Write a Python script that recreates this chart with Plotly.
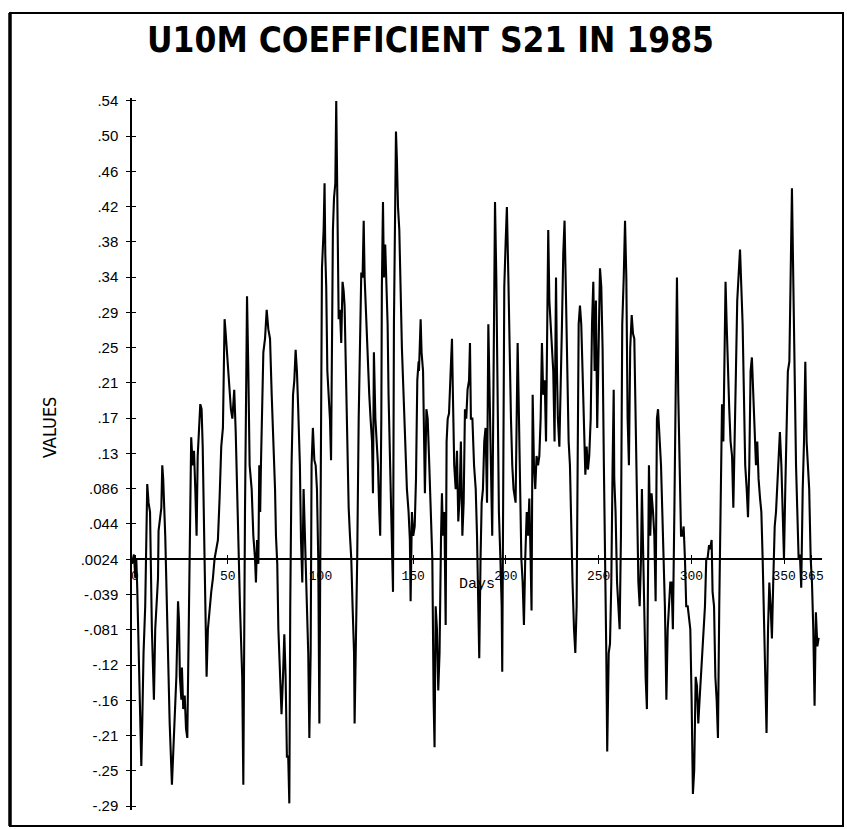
import plotly.graph_objects as go

# ---- data ----
DAYS = [
    -1.6, -0.6, 0.2, 0.7, 1.2, 2.5, 3.4, 3.9, 4.6, 5.5, 6.6, 7.3, 8.1, 9.1, 10.2, 10.9, 11.6, 12.4, 12.7, 13.4,
    14.2, 14.7, 15.2, 16.3, 17.4, 18.7, 19.9, 20.6, 21.4, 22.3, 23.2, 23.7, 24.2, 25.0, 25.3, 26.0, 26.8, 27.5, 28.2, 29.3,
    30.3, 31.1, 31.8, 32.5, 33.2, 33.8, 34.5, 35.2, 35.9, 36.5, 37.5, 38.6, 39.3, 40.2, 41.1, 42.0, 42.9, 43.8, 44.7, 45.6,
    46.5, 47.4, 48.3,
    48.9, 49.6, 50.7, 51.7, 52.5, 53.5, 54.3, 55.3, 56.6, 57.8, 58.4, 59.3, 59.8, 60.4, 61.1, 61.8, 62.9, 63.8, 64.7, 65.2,
    65.8, 66.5, 67.0, 67.5, 67.9, 68.6, 69.2, 70.1, 71.0, 71.9, 72.8, 73.7, 74.6, 75.5, 76.0, 76.7, 77.3, 77.8, 78.5, 79.0,
    79.8, 80.5, 81.2, 81.9, 82.6, 83.2, 83.7, 84.4, 85.2, 85.9, 86.6, 87.3, 88.0, 88.9, 89.5, 90.2, 90.9, 91.6, 92.2, 92.7,
    93.4, 94.0, 94.7, 95.2, 95.9, 96.7, 97.4, 98.1, 98.8, 99.4, 99.9, 100.6,
    100.8, 101.7, 102.2, 102.6, 103.1, 103.7, 104.4, 105.1, 105.7, 106.2, 106.7, 107.3, 108.0, 108.5, 109.1, 109.4, 109.8,
    110.5, 111.2, 111.9, 112.5, 113.0, 113.7, 114.5, 115.2, 115.9, 116.6, 117.3, 118.1, 118.4, 119.1, 119.8, 120.6, 121.3,
    122.0, 122.7, 123.3, 123.8, 124.5, 125.6, 126.3, 127.0, 127.8, 128.3, 128.8, 129.6, 130.3, 131.0, 131.7, 132.2, 132.8,
    133.1, 133.7, 134.2, 134.9, 135.5, 136.2, 136.7, 137.6, 138.5, 139.1, 139.6, 140.2, 140.7, 141.2, 141.8, 142.5, 143.2,
    143.9, 144.8, 145.7, 146.6, 147.5, 148.2, 148.6, 149.3, 150.0, 150.8, 151.5, 152.2, 152.9,
    153.1, 154.0, 154.5, 155.3, 156.0, 156.3, 157.1, 157.8, 158.5, 159.4, 160.3, 161.0, 161.5, 162.1, 162.8, 163.5, 164.2,
    165.0, 165.5, 166.0, 166.8, 167.5, 168.0, 168.6, 169.3, 170.2, 170.9, 171.4, 172.1, 172.9, 173.6, 174.3, 175.0, 175.7,
    176.5, 177.2, 177.9, 178.6, 179.3, 180.1, 180.6, 181.1, 181.9, 182.8, 183.7, 184.4, 185.1, 185.6, 186.3, 186.9, 187.6,
    188.3, 189.0, 189.8, 190.5, 191.2, 191.9, 192.6, 193.4, 194.1, 194.8, 195.5, 196.2, 197.0, 197.7, 198.0, 198.6, 199.1,
    199.8, 200.5, 201.3, 202.0, 202.7, 203.4, 204.1, 205.2,
    205.8, 206.3, 206.8, 207.6, 208.3, 209.0, 209.7, 210.4, 211.2, 211.9, 212.6, 213.3, 213.8, 214.4, 215.1, 215.8, 216.5,
    217.3, 218.0, 218.7, 219.4, 220.1, 220.9, 221.6, 222.3, 222.8, 223.4, 224.1, 224.8, 225.5, 226.2, 227.0, 227.5, 228.0,
    228.8, 229.5, 230.2, 230.9, 231.6, 232.4, 233.1, 233.8, 234.5, 235.2, 235.9, 236.7, 237.4, 238.1, 238.6, 239.2, 239.9,
    240.6, 241.3, 242.1, 242.8, 243.5, 244.2, 244.9, 245.7, 246.4, 247.1, 247.8, 248.5, 249.2, 250.0, 250.7, 251.4, 252.1,
    252.8, 253.6, 254.1, 254.6, 255.4, 256.1, 256.8, 257.5,
    258.1, 258.4, 259.1, 259.9, 260.6, 261.3, 262.0, 262.7, 263.5, 264.2, 264.9, 265.6, 266.3, 267.0, 267.8, 268.5, 269.2,
    269.9, 270.6, 271.4, 272.1, 272.8, 273.3, 273.9, 274.6, 275.3, 276.0, 276.6, 277.1, 277.8, 278.5, 279.3, 280.0, 280.7,
    281.4, 282.0, 282.9, 283.6, 284.3, 285.0, 285.7, 286.5, 287.2, 287.9, 288.6, 289.3, 290.0, 290.8, 291.5, 292.2, 292.9,
    293.6, 294.4, 295.1, 295.8, 296.5, 297.2, 298.0, 298.7, 299.4, 300.1, 300.8, 301.5, 302.3, 303.0, 303.7, 304.4, 305.1,
    305.9, 306.6, 307.3, 308.0, 308.7, 309.5,
    310.0, 310.9, 311.4, 312.2, 312.9, 313.6, 314.3, 315.0, 315.8, 316.5, 317.2, 317.9, 318.4, 319.0, 319.7, 320.4, 321.1,
    321.9, 322.6, 323.3, 324.0, 324.7, 325.5, 326.2, 326.9, 327.6, 328.3, 329.0, 329.8, 330.5, 331.2, 331.9, 332.6, 333.4,
    334.1, 334.8, 335.5, 336.2, 337.0, 337.7, 338.4, 339.1, 339.8, 340.5, 341.3, 342.0, 342.7, 343.4, 344.1, 344.9, 345.6,
    346.3, 347.0, 347.7, 348.5, 349.2, 349.9, 350.6, 351.3, 352.0, 352.8, 353.5, 354.2, 354.9, 355.6, 356.4, 357.1, 357.8,
    358.5, 359.2, 360.0, 360.7, 361.4, 362.1, 362.8, 363.5, 364.3, 365.0, 365.7, 366.4, 367.1, 367.9, 368.6,
]

S21 = [
    -0.003, 0.008, -0.020, 0.003, -0.031, -0.163, -0.241, -0.191, -0.108, -0.053, 0.091, 0.069, 0.058, -0.080, -0.163, -0.080, -0.053, -0.020, 0.036, 0.047,
    0.063, 0.113, 0.097, 0.030, -0.080, -0.191, -0.263, -0.230, -0.191, -0.136, -0.047, -0.069, -0.136, -0.163, -0.125, -0.174, -0.158, -0.197, -0.208, 0.003,
    0.146, 0.113, 0.130, 0.085, 0.030, 0.124, 0.157, 0.185, 0.179, 0.135, 0.003, -0.136, -0.080, -0.053, -0.036, -0.020, 0.003, 0.014, 0.025, 0.074,
    0.135, 0.157, 0.285,
    0.268, 0.246, 0.213, 0.179, 0.168, 0.202, 0.152, 0.058, -0.053, -0.136, -0.263, 0.058, 0.196, 0.312, 0.224, 0.113, 0.085, 0.030, 0.003, -0.025,
    0.025, -0.003, 0.113, 0.058, 0.113, 0.168, 0.246, 0.262, 0.296, 0.273, 0.262, 0.196, 0.141, 0.085, 0.030, -0.003, -0.080, -0.108, -0.130, -0.180,
    -0.136, -0.086, -0.136, -0.230, -0.230, -0.285, -0.053, 0.113, 0.196, 0.213, 0.249, 0.224, 0.179, 0.113, 0.025, -0.025, 0.085, 0.030, -0.025, -0.053,
    -0.108, -0.208, -0.108, 0.113, 0.157, 0.119, 0.113, 0.085, 0.003, -0.191, 0.003, 0.196,
    0.345, 0.390, 0.445, 0.362, 0.323, 0.224, 0.196, 0.168, 0.119, 0.279, 0.390, 0.428, 0.445, 0.542, 0.445, 0.390, 0.285,
    0.296, 0.257, 0.329, 0.318, 0.301, 0.224, 0.141, 0.063, 0.030, 0.003, -0.053, -0.108, -0.191, -0.108, 0.003, 0.168, 0.268,
    0.340, 0.334, 0.401, 0.334, 0.290, 0.224, 0.196, 0.168, 0.141, 0.080, 0.246, 0.168, 0.141, 0.113, 0.058, 0.030, 0.168,
    0.323, 0.423, 0.334, 0.373, 0.323, 0.279, 0.196, 0.113, 0.003, -0.036, 0.279, 0.445, 0.506, 0.473, 0.417, 0.390, 0.307,
    0.251, 0.196, 0.141, 0.085, 0.058, 0.025, -0.047, 0.058, 0.030, 0.041, 0.097, 0.213, 0.235,
    0.224, 0.285, 0.246, 0.224, 0.113, 0.080, 0.179, 0.168, 0.124, 0.058, 0.003, -0.163, -0.219, -0.053, -0.080, -0.152, -0.108,
    0.030, 0.080, 0.030, 0.058, -0.075, 0.141, 0.168, 0.174, 0.224, 0.262, 0.196, 0.113, 0.085, 0.130, 0.047, 0.074, 0.141,
    0.030, 0.069, 0.179, 0.168, 0.202, 0.213, 0.257, 0.168, 0.168, 0.113, 0.085, 0.030, -0.053, -0.114, 0.003, 0.069, 0.085,
    0.141, 0.157, 0.069, 0.279, 0.168, 0.113, 0.030, 0.224, 0.423, 0.334, 0.168, 0.058, 0.003, -0.053, -0.130, 0.113, 0.323,
    0.373, 0.417, 0.334, 0.224, 0.168, 0.113, 0.085, 0.069,
    0.196, 0.257, 0.196, 0.085, 0.003, -0.025, -0.075, 0.003, 0.058, 0.030, 0.074, 0.003, -0.058, 0.196, 0.113, 0.085, 0.124,
    0.113, 0.124, 0.168, 0.257, 0.196, 0.213, 0.141, 0.279, 0.390, 0.307, 0.279, 0.257, 0.224, 0.141, 0.334, 0.224, 0.168,
    0.135, 0.196, 0.279, 0.362, 0.401, 0.307, 0.224, 0.141, 0.113, 0.030, -0.025, -0.080, -0.108, -0.053, 0.113, 0.279, 0.301,
    0.279, 0.224, 0.168, 0.102, 0.135, 0.108, 0.124, 0.168, 0.279, 0.329, 0.224, 0.307, 0.157, 0.279, 0.345, 0.323, 0.251,
    0.113, 0.003, -0.108, -0.224, -0.108, -0.097, -0.025, 0.113,
    0.202, 0.097, 0.058, -0.025, -0.053, -0.080, 0.030, 0.279, 0.334, 0.401, 0.334, 0.168, 0.113, 0.251, 0.290, 0.268, 0.262,
    0.168, 0.085, -0.025, -0.053, 0.003, 0.085, 0.003, -0.080, -0.136, -0.174, -0.053, 0.113, 0.030, 0.080, 0.058, 0.030, -0.047,
    0.168, 0.179, 0.141, 0.113, 0.058, 0.003, -0.053, -0.163, -0.080, -0.053, -0.025, -0.025, -0.080, 0.058, 0.224, 0.334, 0.196,
    0.113, 0.030, 0.030, 0.041, 0.003, -0.053, -0.053, -0.069, -0.080, -0.163, -0.274, -0.246, -0.136, -0.147, -0.191, -0.163, -0.136,
    -0.108, -0.080, -0.053, 0.003, 0.003, 0.019,
    0.014, 0.025, -0.036, -0.053, -0.136, -0.163, -0.208, -0.053, 0.113, 0.185, 0.141, 0.246, 0.329, 0.279, 0.213, 0.179, 0.141,
    0.124, 0.063, 0.168, 0.224, 0.307, 0.345, 0.367, 0.323, 0.279, 0.196, 0.113, 0.085, 0.052, 0.113, 0.224, 0.240, 0.196,
    0.168, 0.113, 0.141, 0.097, 0.074, 0.058, 0.003, -0.080, -0.136, -0.202, -0.080, -0.025, -0.053, -0.091, -0.025, 0.041, 0.058,
    0.085, 0.119, 0.152, 0.113, 0.058, 0.003, 0.085, 0.168, 0.224, 0.235, 0.334, 0.439, 0.334, 0.224, 0.113, 0.058, 0.003,
    0.008, -0.031, 0.085, 0.141, 0.235, 0.141, 0.113, 0.085, 0.003, -0.025, -0.080, -0.170, -0.060, -0.100, -0.090,
]

X_TICK_VALUES = [0, 50, 100, 150, 200, 250, 300, 350, 365]
X_TICK_LABELS = ["0", "50", "100", "150", "200", "250", "300", "350", "365"]

Y_TICK_VALUES = [-0.2881, -0.2466, -0.2051, -0.1636, -0.1221, -0.0806, -0.0391, 0.0024, 0.0439, 0.0854,
                 0.1269, 0.1684, 0.2099, 0.2514, 0.2929, 0.3344, 0.3759, 0.4174, 0.4589, 0.5004, 0.5419]
Y_TICK_LABELS = ["-.29", "-.25", "-.21", "-.16", "-.12", "-.081", "-.039", ".0024", ".044", ".086",
                 ".13", ".17", ".21", ".25", ".29", ".34", ".38", ".42", ".46", ".50", ".54"]

TITLE = "U10M COEFFICIENT S21 IN 1985"
Y_TITLE = "VALUES"
X_TITLE = "Days"

X_RANGE = [-2.16, 370.4]
Y_RANGE = [-0.2928, 0.5454]
X_AXIS_AT = 0.0024

CONDENSED = "DejaVu Sans Condensed, Liberation Sans Narrow, Arial Narrow, sans-serif"
SANS = "Liberation Sans, Arial, sans-serif"
MONO = "Liberation Mono, DejaVu Sans Mono, monospace"

fig = go.Figure()
fig.add_trace(go.Scatter(x=DAYS, y=S21, mode="lines",
                         line=dict(color="black", width=2.1),
                         showlegend=False, hoverinfo="skip"))
# invisible helper trace so the overlay axes (for cross-shaped ticks) are drawn
fig.add_trace(go.Scatter(x=[X_RANGE[0]], y=[Y_RANGE[0]], xaxis="x2", yaxis="y2",
                         mode="markers", marker=dict(opacity=0), showlegend=False,
                         hoverinfo="skip"))

xpos = (X_AXIS_AT - Y_RANGE[0]) / (Y_RANGE[1] - Y_RANGE[0])

fig.update_layout(
    width=847, height=829,
    margin=dict(l=131, r=25, t=98, b=19),
    paper_bgcolor="white", plot_bgcolor="white",
    showlegend=False,
    xaxis=dict(range=X_RANGE, anchor="free", position=xpos,
               showline=True, linecolor="black", linewidth=1.5,
               ticks="outside", ticklen=4, tickwidth=1.2, tickcolor="black",
               tickvals=X_TICK_VALUES, ticktext=X_TICK_LABELS,
               tickfont=dict(family=MONO, size=13, color="black"),
               showgrid=False, zeroline=False),
    xaxis2=dict(range=X_RANGE, overlaying="x", anchor="free", position=xpos,
                showline=False, ticks="inside", ticklen=4, tickwidth=1.2, tickcolor="black",
                tickvals=X_TICK_VALUES, showticklabels=False,
                showgrid=False, zeroline=False),
    yaxis=dict(range=Y_RANGE, anchor="free", position=0,
               showline=True, linecolor="black", linewidth=1.5,
               ticks="outside", ticklen=4, tickwidth=1.2, tickcolor="black",
               tickvals=Y_TICK_VALUES, ticktext=Y_TICK_LABELS,
               tickfont=dict(family=SANS, size=15, color="black"),
               ticklabelstandoff=5,
               showgrid=False, zeroline=False),
    yaxis2=dict(range=Y_RANGE, overlaying="y", anchor="free", position=0,
                showline=False, ticks="inside", ticklen=4, tickwidth=1.2, tickcolor="black",
                tickvals=Y_TICK_VALUES, showticklabels=False,
                showgrid=False, zeroline=False),
    annotations=[
        dict(text="<b>" + TITLE + "</b>", xref="paper", yref="paper",
             x=0.434, y=1.0815, xanchor="center", yanchor="middle", showarrow=False,
             font=dict(family=CONDENSED, size=35, color="black")),
        dict(text=Y_TITLE, xref="paper", yref="paper", x=-0.117, y=0.538,
             xanchor="center", yanchor="middle", textangle=-90, showarrow=False,
             font=dict(family=CONDENSED, size=18, color="black")),
        dict(text=X_TITLE, xref="paper", yref="paper", x=0.5007, y=0.3174,
             xanchor="center", yanchor="middle", showarrow=False,
             font=dict(family=MONO, size=15, color="black")),
    ],
    shapes=[
        dict(type="rect", xref="paper", yref="paper",
             x0=-0.1751, x1=1.0304, y0=-0.0225, y1=1.1194,
             line=dict(color="black", width=2), fillcolor="rgba(0,0,0,0)", layer="below"),
        dict(type="line", xref="paper", yref="paper",
             x0=-0.1751, x1=-0.1751, y0=-0.0225, y1=1.1194,
             line=dict(color="black", width=3.5), layer="below"),
    ],
)

fig.write_html("out.html", config={"displayModeBar": False},
               post_script="document.body.style.margin='0px';")
